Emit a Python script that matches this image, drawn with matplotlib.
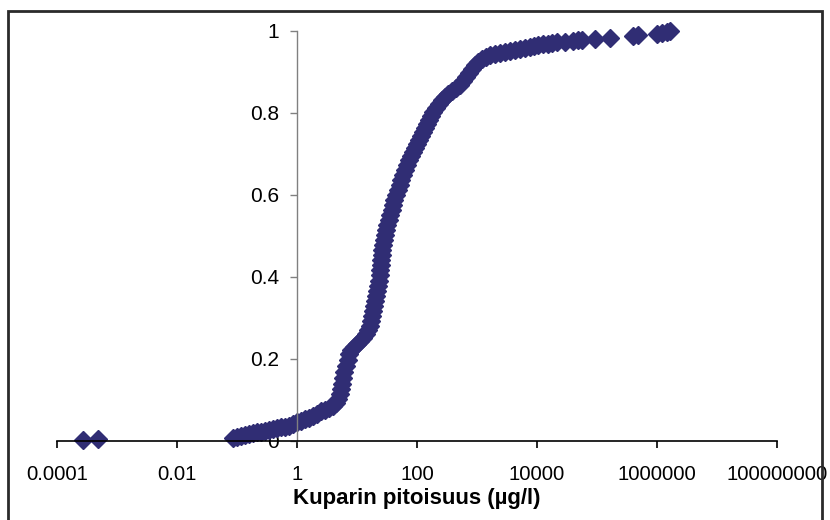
import numpy as np
import matplotlib
matplotlib.use('Agg')
from matplotlib import pyplot as plt
from matplotlib.patches import Rectangle

plt.rcParams['font.family'] = ['Liberation Sans', 'DejaVu Sans']

# copper concentration (ug/l) and cumulative fraction
conc = [
    0.000271, 0.000482,
    0.0858, 0.100, 0.117, 0.136, 0.158, 0.185, 0.215, 0.251, 0.293, 0.341,
    0.398, 0.464, 0.541, 0.631, 0.736, 0.858, 1.00, 1.17, 1.36, 1.59,
    1.85, 2.15, 2.51, 2.93, 3.42, 3.98, 4.47, 4.82, 5.21, 5.41,
    5.62, 5.84, 6.07, 6.56, 7.08, 7.36, 7.94, 8.91, 10.0, 11.2,
    12.6, 14.1, 15.3, 16.5, 17.1, 17.8, 18.5, 19.2, 20.0, 20.7,
    21.5, 22.4, 23.3, 24.2, 24.6, 25.1, 25.6, 26.1, 26.6, 27.1,
    28.2, 29.3, 30.4, 31.6, 34.1, 35.5, 38.3, 39.8, 41.4, 44.7,
    48.2, 52.1, 54.1, 58.4, 63.1, 68.1, 73.6, 79.4, 85.8, 92.6,
    100, 108, 117, 126, 136, 147, 158, 171, 185, 207,
    233, 261, 293, 329, 383, 447, 521, 584, 656, 736,
    825, 926, 1040, 1210, 1410, 1650, 2000, 2420, 2930, 3550,
    4300, 5210, 6310, 7640, 8910, 10400, 12600, 15300, 17800, 21500,
    29300, 39800, 48200, 56200, 92600, 165000, 398000, 482000, 1000000, 1210000,
    1470000, 1650000,
]
cum_frac = [
    0.002, 0.005,
    0.007, 0.010, 0.012, 0.015, 0.017, 0.020, 0.022, 0.023, 0.024, 0.027,
    0.029, 0.032, 0.033, 0.034, 0.037, 0.041, 0.046, 0.049, 0.054, 0.056,
    0.061, 0.066, 0.073, 0.076, 0.080, 0.085, 0.093, 0.102, 0.115, 0.127,
    0.139, 0.154, 0.168, 0.183, 0.198, 0.212, 0.222, 0.229, 0.237, 0.244,
    0.251, 0.261, 0.271, 0.280, 0.293, 0.305, 0.317, 0.329, 0.341, 0.354,
    0.366, 0.378, 0.390, 0.405, 0.417, 0.429, 0.441, 0.454, 0.466, 0.478,
    0.490, 0.502, 0.515, 0.527, 0.539, 0.551, 0.563, 0.576, 0.588, 0.600,
    0.612, 0.624, 0.637, 0.649, 0.661, 0.673, 0.685, 0.695, 0.705, 0.715,
    0.724, 0.734, 0.744, 0.754, 0.763, 0.773, 0.783, 0.793, 0.802, 0.812,
    0.822, 0.832, 0.839, 0.846, 0.854, 0.861, 0.868, 0.878, 0.888, 0.898,
    0.907, 0.917, 0.924, 0.932, 0.937, 0.941, 0.944, 0.946, 0.949, 0.951,
    0.954, 0.956, 0.959, 0.961, 0.963, 0.966, 0.968, 0.969, 0.971, 0.972,
    0.973, 0.976, 0.977, 0.978, 0.980, 0.983, 0.988, 0.990, 0.993, 0.995,
    0.998, 1.000,
]

x_ticks = [1e-4, 1e-2, 1, 1e2, 1e4, 1e6, 1e8]
x_labels = ['0.0001', '0.01', '1', '100', '10000', '1000000', '100000000']
y_ticks = [0, 0.2, 0.4, 0.6, 0.8, 1]
y_labels = ['0', '0.2', '0.4', '0.6', '0.8', '1']

fig = plt.figure(figsize=(8.3, 5.2), dpi=100)
ax = fig.add_axes([57/830, 79/520, 720/830, 410/520])

ax.plot(conc, cum_frac, linestyle='none', marker='D', markersize=8.8,
        color='#302d74', markeredgecolor='#302d74', clip_on=False, zorder=2)

ax.set_xscale('log')
ax.set_xlim(1e-4, 1e8)
ax.set_ylim(0, 1)
ax.set_xticks(x_ticks)
ax.set_xticklabels(x_labels)
ax.minorticks_off()
ax.set_yticks(y_ticks)
ax.set_yticklabels(y_labels)

# y axis crosses at x = 1 like the Excel original
ax.spines['left'].set_position(('data', 1))
ax.spines['left'].set_color('#808080')
ax.spines['left'].set_linewidth(1.0)
ax.spines['top'].set_visible(False)
ax.spines['right'].set_visible(False)
ax.spines['bottom'].set_color('black')
ax.spines['bottom'].set_linewidth(1.2)

ax.tick_params(axis='x', direction='out', length=5, width=1.2, color='black',
               labelsize=14.7, pad=12, labelcolor='black')
ax.tick_params(axis='y', direction='out', length=5, width=1.0, color='#808080',
               labelsize=15, pad=8, labelcolor='black')

ax.set_xlabel('Kuparin pitoisuus (µg/l)', fontsize=16, fontweight='bold', labelpad=3)

# outer chart border
border = Rectangle((8/830, -0.05), 814/830, (509/520) + 0.05, transform=fig.transFigure,
                   fill=False, edgecolor='#2a2a2a', linewidth=2.0, clip_on=False)
fig.patches.append(border)

fig.savefig('out.png', dpi=100)
